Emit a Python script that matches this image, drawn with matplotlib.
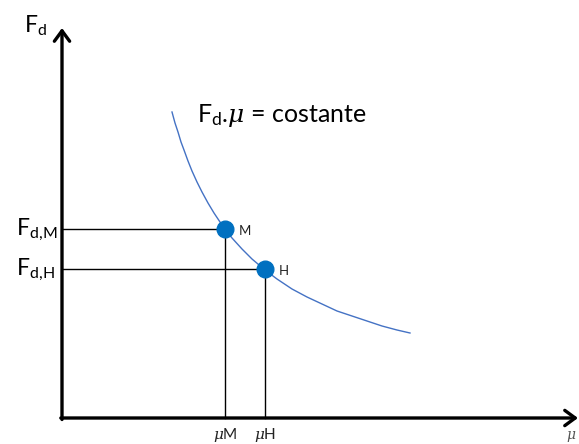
import matplotlib
matplotlib.use("Agg")
import matplotlib.pyplot as plt

plt.rcParams['font.family'] = ['Lato', 'DejaVu Sans']
plt.rcParams['mathtext.fontset'] = 'custom'
plt.rcParams['mathtext.rm'] = 'Lato'
plt.rcParams['mathtext.it'] = 'DejaVu Serif:italic'

# curve F_d * mu = costante (origin at the axes corner)
curve_mu = [110, 113, 116, 119, 122, 126, 130, 135, 140, 146, 152, 158, 163, 170,
            180, 190, 203, 215, 230, 245, 260, 275, 290, 305, 320, 335, 348]
curve_f = [306, 295, 286, 276, 268, 257, 247, 236, 226, 215, 205, 196, 189, 180,
           169, 159, 148, 139, 129, 121, 114, 107, 102, 97, 92, 88, 85]

# the two points
point_names = ['M', 'H']
point_mu = [163, 203]
point_f = [189, 149]

x_end = 516
y_end = 390

fig = plt.figure(figsize=(5.79, 4.44), dpi=100)
ax = fig.add_axes([0, 0, 1, 1])
ax.set_xlim(-62, 517)
ax.set_ylim(-26, 418)
ax.axis('off')

# axes with open arrow heads
arrow = dict(arrowstyle='->,head_length=0.75,head_width=0.55', lw=2.4, color='black',
             shrinkA=0, shrinkB=0)
ax.annotate('', xy=(0, y_end), xytext=(0, -1.5), arrowprops=arrow)
ax.annotate('', xy=(x_end, 0), xytext=(-1.2, 0), arrowprops=arrow)

ax.plot(curve_mu, curve_f, color='#4472C4', lw=1.0)

for name, m, f in zip(point_names, point_mu, point_f):
    ax.plot([0, m], [f, f], color='black', lw=1.0)
    ax.plot([m, m], [f, 0], color='black', lw=1.0)
    ax.plot(m, f, 'o', color='#0070C0', markersize=12, zorder=5)
    ax.text(m + 14, f - 6, name, fontsize=9.5, color='#222222', ha='left', va='baseline')
    ax.text(m, -21, r'$\mu$' + name, fontsize=11, color='#222222', ha='center', va='baseline')
    ax.text(-46, f - 6, r'$\mathregular{F_{d,\!%s}}$' % name, fontsize=16.5,
            ha='left', va='baseline')

ax.text(-38, 386, r'$\mathregular{F_d}$', fontsize=16.5, ha='left', va='baseline')
ax.text(514, -21, r'$\mu$', fontsize=10, color='#555555', ha='right', va='baseline')
ax.text(135, 296, r'$\mathregular{F_d}$.$\mu$' + ' = costante', fontsize=18,
        ha='left', va='baseline')

plt.savefig('out.png', dpi=100)
